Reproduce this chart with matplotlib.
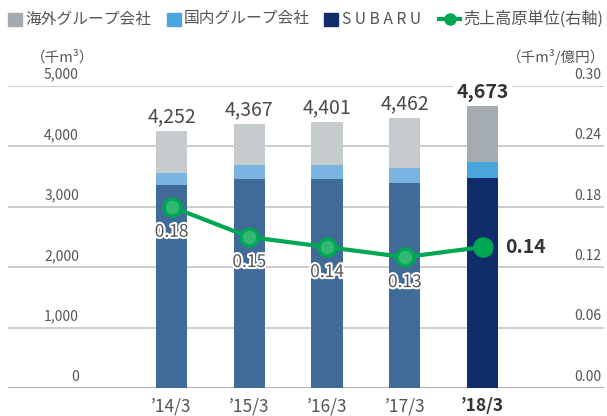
import matplotlib
matplotlib.use("Agg")
import matplotlib.pyplot as plt
import matplotlib.patheffects as pe
from matplotlib.patches import Rectangle
from matplotlib.lines import Line2D
import numpy as np

plt.rcParams["font.family"] = ["Noto Sans CJK JP", "DejaVu Sans"]

# data
years = ["’14/3", "’15/3", "’16/3", "’17/3", "’18/3"]
subaru = [3355, 3455, 3455, 3390, 3471]
domestic = [200, 231, 231, 246, 265]
overseas = [697, 681, 715, 826, 937]
totals = [4252, 4367, 4401, 4462, 4673]
intensity = [0.18, 0.15, 0.14, 0.13, 0.14]

left_ticks = [0, 1000, 2000, 3000, 4000, 5000]
right_ticks = [0.00, 0.06, 0.12, 0.18, 0.24, 0.30]

# colours: past years lighter, latest year strong
c_sub = ["#406b98"] * 4 + ["#102c6b"]
c_dom = ["#7ab5e2"] * 4 + ["#49a6dc"]
c_ovs = ["#c6cbce"] * 4 + ["#a4acb2"]
GREEN = "#00a651"
TXT = "#555555"

W, H = 607, 416
fig = plt.figure(figsize=(W / 100, H / 100), dpi=100)


def fx(px):
    return px / W


def fy(py):
    return 1 - py / H


ax = fig.add_axes([fx(8), (H - 388) / H, (604 - 8) / W, 302 / H])
x = np.arange(len(years))
ax.set_xlim(-163.5 / 77.75, 4 + 121.5 / 77.75)
ax.set_ylim(0, 5000)
for s in ax.spines.values():
    s.set_visible(False)
ax.set_xticks([])
ax.set_yticks([])

for v in left_ticks[1:]:
    ax.axhline(v, color="#c8c8c8", lw=1.3, zorder=0)
ax.axhline(0, color="#a8a8a8", lw=1.3, zorder=0)

bw = 0.4
ax.bar(x, subaru, bw, color=c_sub, zorder=2)
ax.bar(x, domestic, bw, bottom=subaru, color=c_dom, zorder=2)
bot2 = np.array(subaru) + np.array(domestic)
ax.bar(x, overseas, bw, bottom=bot2, color=c_ovs, zorder=2)

for i, t in enumerate(totals):
    last = i == len(totals) - 1
    ax.annotate(f"{t:,}", (x[i], t), xytext=(0, 3), textcoords="offset points",
                ha="center", va="bottom", fontsize=14,
                fontweight="bold" if last else "normal",
                color="#333333" if last else "#4a4a4a", zorder=5,
                bbox=dict(boxstyle="square,pad=0.15", fc="white", ec="none") if last else None)

# y tick labels sit above the grid lines
lt = ax.get_yaxis_transform()
for v in left_ticks:
    ax.text(0.119, v + 70, f"{v:,}", transform=lt, ha="right", va="bottom",
            fontsize=10, color=TXT)

for i, lab in enumerate(years):
    last = i == len(years) - 1
    ax.text(x[i], -300, lab, ha="center", va="center", fontsize=12.5,
            fontweight="bold" if last else "normal",
            color="#333333" if last else TXT, clip_on=False)

ax2 = ax.twinx()
ax2.set_ylim(0, 0.30)
ax2.set_xlim(ax.get_xlim())
for s in ax2.spines.values():
    s.set_visible(False)
ax2.set_yticks([])

rt = ax2.get_yaxis_transform()
for v in right_ticks:
    ax2.text(0.995, v + 0.0042, f"{v:.2f}", transform=rt, ha="right",
             va="bottom", fontsize=10, color=TXT)

ax2.plot(x, intensity, color=GREEN, lw=3, zorder=3, solid_capstyle="round")
ax2.scatter(x[:-1], intensity[:-1], s=150, facecolor="#33b873",
            edgecolor=GREEN, linewidth=2.5, zorder=4)
ax2.scatter(x[-1:], intensity[-1:], s=190, facecolor=GREEN,
            edgecolor=GREEN, zorder=4)

for i, v in enumerate(intensity[:-1]):
    ax2.annotate(f"{v:.2f}", (x[i], v), xytext=(0, -18),
                 textcoords="offset points", ha="center", va="center",
                 fontsize=12.5, color=TXT, zorder=5,
                 path_effects=[pe.withStroke(linewidth=3, foreground="white")])
ax2.annotate(f"{intensity[-1]:.2f}", (x[-1], intensity[-1]), xytext=(16, 0),
             textcoords="offset points", ha="left", va="center",
             fontsize=14, fontweight="bold", color="#333333")

# units
fig.text(fx(31), fy(57), "（千m³）", ha="left", va="center", fontsize=10.5,
         color=TXT)
fig.text(fx(605), fy(57), "（千m³/億円）", ha="right", va="center",
         fontsize=10.5, color=TXT)


# legend
def square(px, color):
    fig.add_artist(Rectangle((fx(px), fy(26)), 14 / W, 13 / H,
                             transform=fig.transFigure, color=color))


square(8, "#a4abb0")
fig.text(fx(25), fy(19), "海外グループ会社", ha="left", va="center",
         fontsize=11.3, color=TXT)
square(167, "#4aa6dc")
fig.text(fx(184), fy(19), "国内グループ会社", ha="left", va="center",
         fontsize=11.3, color=TXT)
square(324, "#102c6b")
fig.text(fx(342), fy(19), "S U B A R U", ha="left", va="center",
         fontsize=11.3, color=TXT)
fig.add_artist(Line2D([fx(439), fx(460)], [fy(19), fy(19)], color=GREEN,
                      lw=3, transform=fig.transFigure))
fig.add_artist(Line2D([fx(449.5)], [fy(19)], color=GREEN, marker="o",
                      markersize=8, transform=fig.transFigure))
fig.text(fx(463), fy(19), "売上高原単位(右軸)", ha="left", va="center",
         fontsize=11.6, color=TXT)

fig.savefig("out.png", dpi=100)
